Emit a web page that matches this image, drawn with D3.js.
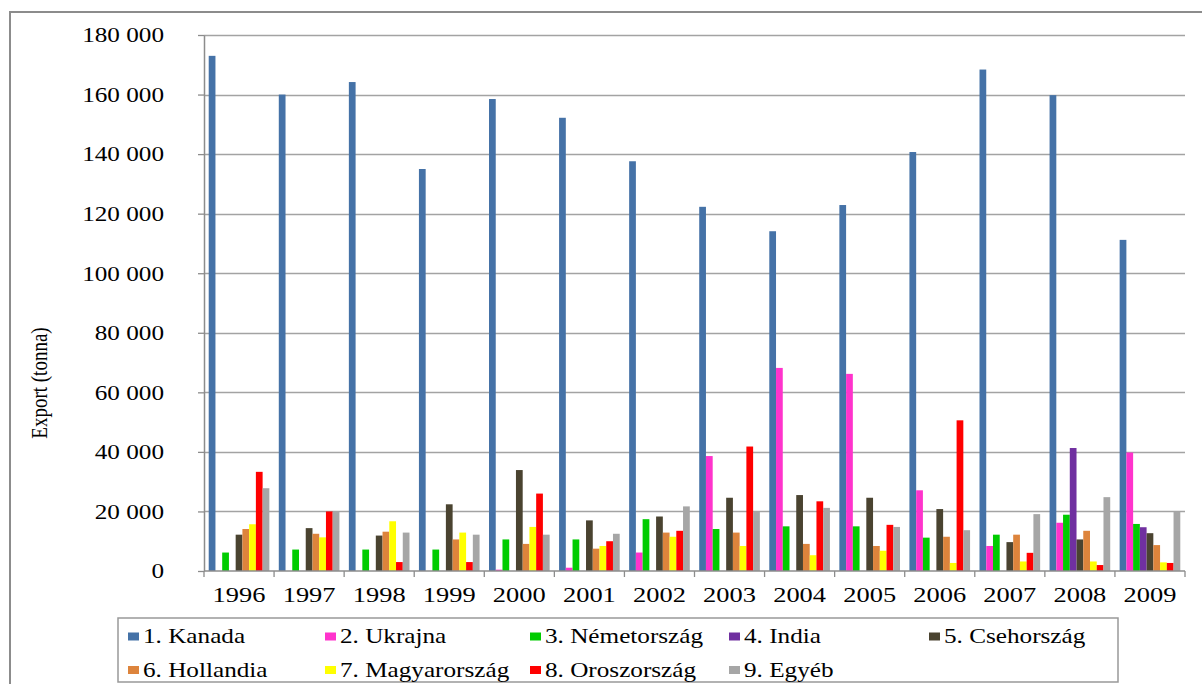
<!DOCTYPE html>
<html>
<head>
<meta charset="utf-8">
<script src="https://cdn.jsdelivr.net/npm/d3@7"></script>
<style>
  html, body { margin: 0; padding: 0; background: #fff; }
  svg { display: block; }
  text { font-family: "Liberation Serif", "Times New Roman", serif; fill: #000; }
</style>
</head>
<body>
<svg id="chart" width="1202" height="684"></svg>
<script>
// Export by destination country, tonnes per year
const years = ["1996","1997","1998","1999","2000","2001","2002","2003","2004","2005","2006","2007","2008","2009"];
const seriesNames = ["1. Kanada","2. Ukrajna","3. Németország","4. India","5. Csehország","6. Hollandia","7. Magyarország","8. Oroszország","9. Egyéb"];
const kanada       = [173000,160000,164200,135000,158500,152200,137600,122300,114100,122900,140700,168400,159800,111200];
const ukrajna      = [0,0,0,0,450,1100,6200,38600,68200,66200,27100,8400,16200,39800];
const nemetorszag  = [6200,7200,7200,7200,10600,10600,17400,14100,15000,15000,11200,12200,18900,15800];
const india        = [0,0,0,0,0,0,0,0,0,0,0,0,41300,14700];
const csehorszag   = [12200,14400,11900,22400,33900,17000,18300,24600,25500,24600,20800,9700,10600,12700];
const hollandia    = [14100,12500,13200,10600,9100,7500,12900,12900,9100,8400,11500,12200,13500,8700];
const magyarorszag = [15700,11300,16700,12900,14800,8400,11500,8400,5300,6800,2700,3200,3200,2900];
const oroszorszag  = [33300,20000,3000,3000,26000,10000,13500,41800,23400,15500,50600,6100,2000,2700];
const egyeb        = [27800,20000,12900,12200,12200,12500,21700,20000,21200,14800,13700,19100,24800,20000];
const yTicks = [0,20000,40000,60000,80000,100000,120000,140000,160000,180000];
const yTitle = "Export (tonna)";

const seriesValues = [kanada, ukrajna, nemetorszag, india, csehorszag, hollandia, magyarorszag, oroszorszag, egyeb];
const colors = ["#4572a7","#ff33cc","#00cc00","#7030a0","#4a4330","#dd843c","#ffff00","#ff0000","#a6a6a6"];

const sx = 1.26; // horizontal glyph stretch used for all labels

const svg = d3.select("#chart");
const plot = { left: 204, right: 1185, top: 35, bottom: 571 };

// outer frame
svg.append("rect")
  .attr("x", 10).attr("y", 12).attr("width", 1230).attr("height", 700)
  .attr("fill", "none").attr("stroke", "#8c8c8c").attr("stroke-width", 2);

const x0 = d3.scaleBand().domain(years).range([plot.left, plot.right]).padding(0);
const x1 = d3.scaleBand().domain(seriesNames).range([0, x0.bandwidth()]).paddingInner(0).paddingOuter(0.7);
const y = d3.scaleLinear().domain([0, 180000]).range([plot.bottom, plot.top]);

const fmt = d3.formatLocale({ decimal: ",", thousands: " ", grouping: [3], currency: ["", ""] }).format(",");

// gridlines
svg.append("g")
  .selectAll("line").data(yTicks.filter(d => d > 0)).join("line")
  .attr("x1", plot.left).attr("x2", plot.right)
  .attr("y1", d => Math.round(y(d)) + 0.5).attr("y2", d => Math.round(y(d)) + 0.5)
  .attr("stroke", "#a3a3a3").attr("stroke-width", 1.3);

// y axis
const yAxis = svg.append("g")
  .attr("transform", `translate(${plot.left},0)`)
  .call(d3.axisLeft(y).tickValues(yTicks).tickFormat(fmt).tickSize(6).tickSizeOuter(0));
yAxis.select(".domain").attr("stroke", "#8c8c8c").attr("stroke-width", 1.5);
yAxis.selectAll(".tick line").attr("stroke", "#8c8c8c").attr("stroke-width", 1.3);
yAxis.selectAll(".tick text")
  .attr("x", 0).attr("dy", "0.34em")
  .attr("transform", `translate(-40,0) scale(${sx},1)`)
  .style("font-size", "20px").style("font-family", "'Liberation Serif', serif")
  .attr("fill", "#000");

// bars
const groups = svg.append("g").selectAll("g").data(years).join("g")
  .attr("transform", d => `translate(${x0(d)},0)`);
groups.selectAll("rect")
  .data((yr, i) => seriesNames.map((s, k) => ({ s, k, v: seriesValues[k][i] })))
  .join("rect")
  .filter(d => d.v > 0)
  .attr("x", d => x1(d.s))
  .attr("width", x1.bandwidth())
  .attr("y", d => y(d.v))
  .attr("height", d => y(0) - y(d.v))
  .attr("fill", d => colors[d.k]);

// x axis baseline and category boundary ticks
svg.append("line")
  .attr("x1", plot.left).attr("x2", plot.right)
  .attr("y1", plot.bottom).attr("y2", plot.bottom)
  .attr("stroke", "#8c8c8c").attr("stroke-width", 1.5);
const bounds = years.map(d => x0(d)).concat([plot.right]);
svg.append("g").selectAll("line").data(bounds).join("line")
  .attr("x1", d => d).attr("x2", d => d)
  .attr("y1", plot.bottom).attr("y2", plot.bottom + 6)
  .attr("stroke", "#8c8c8c").attr("stroke-width", 1.3);

const xAxis = svg.append("g")
  .attr("transform", `translate(0,${plot.bottom})`)
  .call(d3.axisBottom(x0).tickSize(0));
xAxis.select(".domain").remove();
xAxis.selectAll(".tick text")
  .attr("y", 0).attr("dy", 0)
  .attr("transform", `translate(0,31) scale(${sx},1)`)
  .style("font-size", "21px").style("font-family", "'Liberation Serif', serif")
  .attr("fill", "#000");

// y title
svg.append("text")
  .attr("transform", `translate(47,383) scale(${sx},1) rotate(-90)`)
  .attr("text-anchor", "middle")
  .style("font-size", "19px")
  .text(yTitle);

// legend
const legend = svg.append("g");
legend.append("rect")
  .attr("x", 118).attr("y", 618).attr("width", 1000).attr("height", 64)
  .attr("fill", "#fff").attr("stroke", "#999").attr("stroke-width", 1.5);
const legendX = [128, 325, 530, 729, 929];
const legendY = [636.5, 670];
const items = legend.selectAll("g").data(seriesNames).join("g")
  .attr("transform", (d, i) => `translate(${legendX[i % 5]},${legendY[Math.floor(i / 5)]})`);
items.append("rect")
  .attr("x", 0).attr("y", -4).attr("width", 11).attr("height", 8)
  .attr("fill", (d, i) => colors[i]);
items.append("text")
  .attr("transform", `translate(15,6.5) scale(${sx},1)`)
  .style("font-size", "20px")
  .text(d => d);
</script>
</body>
</html>
